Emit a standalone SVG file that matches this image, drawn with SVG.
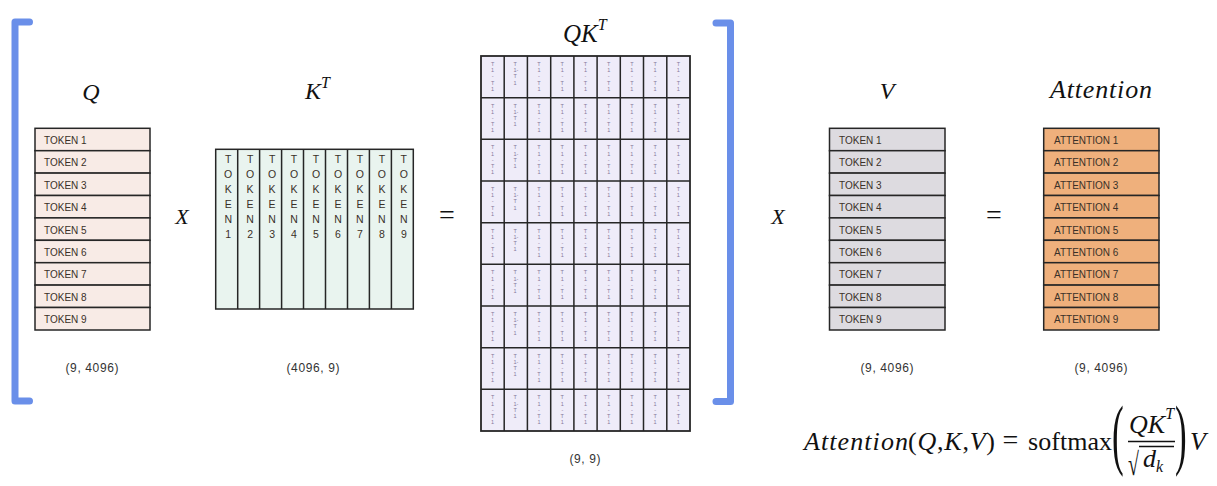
<svg xmlns="http://www.w3.org/2000/svg" width="1217" height="486" viewBox="0 0 1217 486">
<style>
.tok{font-family:"Liberation Sans",Lato,sans-serif;font-size:10px;fill:#3a3028}
.vt{font-family:"Liberation Sans",Lato,sans-serif;font-size:10.5px;fill:#3a3028;text-anchor:middle}
.math{font-family:"Liberation Serif",serif;font-style:italic;fill:#111}
.up{font-family:"Liberation Serif",serif;font-style:normal;fill:#111}
.dim{font-family:"Liberation Sans",Lato,sans-serif;font-size:12px;fill:#333;text-anchor:middle}
.cell{font-family:"Liberation Sans",sans-serif;font-size:5.5px;fill:#86789a;text-anchor:middle}
.cell2{font-family:"Liberation Sans",sans-serif;font-size:5.5px;fill:#86789a}
.ln{stroke:#262626;stroke-width:1.5;fill:none}
.q{fill:#f8ebe6;stroke:#262626;stroke-width:1.5}
.v{fill:#dddbe0;stroke:#262626;stroke-width:1.5}
.a{fill:#efb07c;stroke:#262626;stroke-width:1.5}
.brk{fill:none;stroke:#6a8fe9;stroke-width:7;stroke-linecap:round;stroke-linejoin:round}
</style>

<g id="bracket-left"><path class="brk" d="M29.5 22 H15 V401 H29.5"/></g>
<g id="bracket-right"><path class="brk" d="M716 23 H730.5 V401.5 H716"/></g>

<g id="node-q">
<text class="math" x="91" y="100" font-size="24" text-anchor="middle">Q</text>
<rect class="q" x="35" y="128.3" width="115" height="22.4"/>
<rect class="q" x="35" y="150.7" width="115" height="22.4"/>
<rect class="q" x="35" y="173.1" width="115" height="22.4"/>
<rect class="q" x="35" y="195.5" width="115" height="22.4"/>
<rect class="q" x="35" y="217.9" width="115" height="22.4"/>
<rect class="q" x="35" y="240.3" width="115" height="22.4"/>
<rect class="q" x="35" y="262.7" width="115" height="22.4"/>
<rect class="q" x="35" y="285.1" width="115" height="22.4"/>
<rect class="q" x="35" y="307.5" width="115" height="22.5"/>
<text class="tok" x="44" y="144">TOKEN 1</text>
<text class="tok" x="44" y="166.4">TOKEN 2</text>
<text class="tok" x="44" y="188.8">TOKEN 3</text>
<text class="tok" x="44" y="211.2">TOKEN 4</text>
<text class="tok" x="44" y="233.6">TOKEN 5</text>
<text class="tok" x="44" y="256">TOKEN 6</text>
<text class="tok" x="44" y="278.4">TOKEN 7</text>
<text class="tok" x="44" y="300.8">TOKEN 8</text>
<text class="tok" x="44" y="323.2">TOKEN 9</text>
<text class="dim" x="92" y="372" textLength="53" lengthAdjust="spacing">(9, 4096)</text>
</g>

<g id="node-kt">
<text class="math" x="305" y="98.5" font-size="24">K<tspan font-size="16" dy="-11">T</tspan></text>
<rect x="215.7" y="149.3" width="197.6" height="159.7" fill="#e9f4ef" stroke="#262626" stroke-width="1.5"/>
<path class="ln" d="M237.7 149.3V309M259.6 149.3V309M281.6 149.3V309M303.5 149.3V309M325.5 149.3V309M347.5 149.3V309M369.4 149.3V309M391.4 149.3V309"/>
<text class="vt" x="228.2" y="163">T<tspan x="228.2" dy="15">O</tspan><tspan x="228.2" dy="15">K</tspan><tspan x="228.2" dy="15">E</tspan><tspan x="228.2" dy="15">N</tspan><tspan x="228.2" dy="15">1</tspan></text>
<text class="vt" x="250.1" y="163">T<tspan x="250.1" dy="15">O</tspan><tspan x="250.1" dy="15">K</tspan><tspan x="250.1" dy="15">E</tspan><tspan x="250.1" dy="15">N</tspan><tspan x="250.1" dy="15">2</tspan></text>
<text class="vt" x="272.1" y="163">T<tspan x="272.1" dy="15">O</tspan><tspan x="272.1" dy="15">K</tspan><tspan x="272.1" dy="15">E</tspan><tspan x="272.1" dy="15">N</tspan><tspan x="272.1" dy="15">3</tspan></text>
<text class="vt" x="294" y="163">T<tspan x="294" dy="15">O</tspan><tspan x="294" dy="15">K</tspan><tspan x="294" dy="15">E</tspan><tspan x="294" dy="15">N</tspan><tspan x="294" dy="15">4</tspan></text>
<text class="vt" x="316" y="163">T<tspan x="316" dy="15">O</tspan><tspan x="316" dy="15">K</tspan><tspan x="316" dy="15">E</tspan><tspan x="316" dy="15">N</tspan><tspan x="316" dy="15">5</tspan></text>
<text class="vt" x="338" y="163">T<tspan x="338" dy="15">O</tspan><tspan x="338" dy="15">K</tspan><tspan x="338" dy="15">E</tspan><tspan x="338" dy="15">N</tspan><tspan x="338" dy="15">6</tspan></text>
<text class="vt" x="359.9" y="163">T<tspan x="359.9" dy="15">O</tspan><tspan x="359.9" dy="15">K</tspan><tspan x="359.9" dy="15">E</tspan><tspan x="359.9" dy="15">N</tspan><tspan x="359.9" dy="15">7</tspan></text>
<text class="vt" x="381.9" y="163">T<tspan x="381.9" dy="15">O</tspan><tspan x="381.9" dy="15">K</tspan><tspan x="381.9" dy="15">E</tspan><tspan x="381.9" dy="15">N</tspan><tspan x="381.9" dy="15">8</tspan></text>
<text class="vt" x="403.8" y="163">T<tspan x="403.8" dy="15">O</tspan><tspan x="403.8" dy="15">K</tspan><tspan x="403.8" dy="15">E</tspan><tspan x="403.8" dy="15">N</tspan><tspan x="403.8" dy="15">9</tspan></text>
<text class="dim" x="313" y="372" textLength="53" lengthAdjust="spacing">(4096, 9)</text>
</g>

<g id="node-qkt">
<text class="math" x="563" y="41.5" font-size="25">QK<tspan font-size="16" dy="-12">T</tspan></text>
<rect x="481" y="56" width="209" height="375" fill="#efecf9" stroke="#262626" stroke-width="1.8"/>
<path class="ln" stroke-width="1.8" d="M504.2 56V431M527.4 56V431M550.7 56V431M573.9 56V431M597.1 56V431M620.3 56V431M643.5 56V431M666.8 56V431M481 97.7H690M481 139.3H690M481 181H690M481 222.7H690M481 264.3H690M481 306H690M481 347.7H690M481 389.3H690"/>
<g transform="translate(0,56)">
<text class="cell" x="492.6" y="10">T<tspan x="492.6" dy="6.2">1</tspan><tspan x="492.6" dy="6.2">-</tspan><tspan x="492.6" dy="6.2">T</tspan><tspan x="492.6" dy="6.2">1</tspan></text>
<text class="cell2" x="513.5" y="10">T<tspan x="513.5" dy="6.2">1-</tspan><tspan x="513.5" dy="6.2">T</tspan><tspan x="513.5" dy="6.2">1</tspan></text>
<text class="cell" x="539" y="10">T<tspan x="539" dy="6.2">1</tspan><tspan x="539" dy="6.2">-</tspan><tspan x="539" dy="6.2">T</tspan><tspan x="539" dy="6.2">1</tspan></text>
<text class="cell" x="562.3" y="10">T<tspan x="562.3" dy="6.2">1</tspan><tspan x="562.3" dy="6.2">-</tspan><tspan x="562.3" dy="6.2">T</tspan><tspan x="562.3" dy="6.2">1</tspan></text>
<text class="cell" x="585.5" y="10">T<tspan x="585.5" dy="6.2">1</tspan><tspan x="585.5" dy="6.2">-</tspan><tspan x="585.5" dy="6.2">T</tspan><tspan x="585.5" dy="6.2">1</tspan></text>
<text class="cell" x="608.7" y="10">T<tspan x="608.7" dy="6.2">1</tspan><tspan x="608.7" dy="6.2">-</tspan><tspan x="608.7" dy="6.2">T</tspan><tspan x="608.7" dy="6.2">1</tspan></text>
<text class="cell" x="631.9" y="10">T<tspan x="631.9" dy="6.2">1</tspan><tspan x="631.9" dy="6.2">-</tspan><tspan x="631.9" dy="6.2">T</tspan><tspan x="631.9" dy="6.2">1</tspan></text>
<text class="cell" x="655.1" y="10">T<tspan x="655.1" dy="6.2">1</tspan><tspan x="655.1" dy="6.2">-</tspan><tspan x="655.1" dy="6.2">T</tspan><tspan x="655.1" dy="6.2">1</tspan></text>
<text class="cell" x="678.4" y="10">T<tspan x="678.4" dy="6.2">1</tspan><tspan x="678.4" dy="6.2">-</tspan><tspan x="678.4" dy="6.2">T</tspan><tspan x="678.4" dy="6.2">1</tspan></text>
</g>
<g transform="translate(0,97.67)">
<text class="cell" x="492.6" y="10">T<tspan x="492.6" dy="6.2">1</tspan><tspan x="492.6" dy="6.2">-</tspan><tspan x="492.6" dy="6.2">T</tspan><tspan x="492.6" dy="6.2">1</tspan></text>
<text class="cell2" x="513.5" y="10">T<tspan x="513.5" dy="6.2">1-</tspan><tspan x="513.5" dy="6.2">T</tspan><tspan x="513.5" dy="6.2">1</tspan></text>
<text class="cell" x="539" y="10">T<tspan x="539" dy="6.2">1</tspan><tspan x="539" dy="6.2">-</tspan><tspan x="539" dy="6.2">T</tspan><tspan x="539" dy="6.2">1</tspan></text>
<text class="cell" x="562.3" y="10">T<tspan x="562.3" dy="6.2">1</tspan><tspan x="562.3" dy="6.2">-</tspan><tspan x="562.3" dy="6.2">T</tspan><tspan x="562.3" dy="6.2">1</tspan></text>
<text class="cell" x="585.5" y="10">T<tspan x="585.5" dy="6.2">1</tspan><tspan x="585.5" dy="6.2">-</tspan><tspan x="585.5" dy="6.2">T</tspan><tspan x="585.5" dy="6.2">1</tspan></text>
<text class="cell" x="608.7" y="10">T<tspan x="608.7" dy="6.2">1</tspan><tspan x="608.7" dy="6.2">-</tspan><tspan x="608.7" dy="6.2">T</tspan><tspan x="608.7" dy="6.2">1</tspan></text>
<text class="cell" x="631.9" y="10">T<tspan x="631.9" dy="6.2">1</tspan><tspan x="631.9" dy="6.2">-</tspan><tspan x="631.9" dy="6.2">T</tspan><tspan x="631.9" dy="6.2">1</tspan></text>
<text class="cell" x="655.1" y="10">T<tspan x="655.1" dy="6.2">1</tspan><tspan x="655.1" dy="6.2">-</tspan><tspan x="655.1" dy="6.2">T</tspan><tspan x="655.1" dy="6.2">1</tspan></text>
<text class="cell" x="678.4" y="10">T<tspan x="678.4" dy="6.2">1</tspan><tspan x="678.4" dy="6.2">-</tspan><tspan x="678.4" dy="6.2">T</tspan><tspan x="678.4" dy="6.2">1</tspan></text>
</g>
<g transform="translate(0,139.33)">
<text class="cell" x="492.6" y="10">T<tspan x="492.6" dy="6.2">1</tspan><tspan x="492.6" dy="6.2">-</tspan><tspan x="492.6" dy="6.2">T</tspan><tspan x="492.6" dy="6.2">1</tspan></text>
<text class="cell2" x="513.5" y="10">T<tspan x="513.5" dy="6.2">1-</tspan><tspan x="513.5" dy="6.2">T</tspan><tspan x="513.5" dy="6.2">1</tspan></text>
<text class="cell" x="539" y="10">T<tspan x="539" dy="6.2">1</tspan><tspan x="539" dy="6.2">-</tspan><tspan x="539" dy="6.2">T</tspan><tspan x="539" dy="6.2">1</tspan></text>
<text class="cell" x="562.3" y="10">T<tspan x="562.3" dy="6.2">1</tspan><tspan x="562.3" dy="6.2">-</tspan><tspan x="562.3" dy="6.2">T</tspan><tspan x="562.3" dy="6.2">1</tspan></text>
<text class="cell" x="585.5" y="10">T<tspan x="585.5" dy="6.2">1</tspan><tspan x="585.5" dy="6.2">-</tspan><tspan x="585.5" dy="6.2">T</tspan><tspan x="585.5" dy="6.2">1</tspan></text>
<text class="cell" x="608.7" y="10">T<tspan x="608.7" dy="6.2">1</tspan><tspan x="608.7" dy="6.2">-</tspan><tspan x="608.7" dy="6.2">T</tspan><tspan x="608.7" dy="6.2">1</tspan></text>
<text class="cell" x="631.9" y="10">T<tspan x="631.9" dy="6.2">1</tspan><tspan x="631.9" dy="6.2">-</tspan><tspan x="631.9" dy="6.2">T</tspan><tspan x="631.9" dy="6.2">1</tspan></text>
<text class="cell" x="655.1" y="10">T<tspan x="655.1" dy="6.2">1</tspan><tspan x="655.1" dy="6.2">-</tspan><tspan x="655.1" dy="6.2">T</tspan><tspan x="655.1" dy="6.2">1</tspan></text>
<text class="cell" x="678.4" y="10">T<tspan x="678.4" dy="6.2">1</tspan><tspan x="678.4" dy="6.2">-</tspan><tspan x="678.4" dy="6.2">T</tspan><tspan x="678.4" dy="6.2">1</tspan></text>
</g>
<g transform="translate(0,181)">
<text class="cell" x="492.6" y="10">T<tspan x="492.6" dy="6.2">1</tspan><tspan x="492.6" dy="6.2">-</tspan><tspan x="492.6" dy="6.2">T</tspan><tspan x="492.6" dy="6.2">1</tspan></text>
<text class="cell2" x="513.5" y="10">T<tspan x="513.5" dy="6.2">1-</tspan><tspan x="513.5" dy="6.2">T</tspan><tspan x="513.5" dy="6.2">1</tspan></text>
<text class="cell" x="539" y="10">T<tspan x="539" dy="6.2">1</tspan><tspan x="539" dy="6.2">-</tspan><tspan x="539" dy="6.2">T</tspan><tspan x="539" dy="6.2">1</tspan></text>
<text class="cell" x="562.3" y="10">T<tspan x="562.3" dy="6.2">1</tspan><tspan x="562.3" dy="6.2">-</tspan><tspan x="562.3" dy="6.2">T</tspan><tspan x="562.3" dy="6.2">1</tspan></text>
<text class="cell" x="585.5" y="10">T<tspan x="585.5" dy="6.2">1</tspan><tspan x="585.5" dy="6.2">-</tspan><tspan x="585.5" dy="6.2">T</tspan><tspan x="585.5" dy="6.2">1</tspan></text>
<text class="cell" x="608.7" y="10">T<tspan x="608.7" dy="6.2">1</tspan><tspan x="608.7" dy="6.2">-</tspan><tspan x="608.7" dy="6.2">T</tspan><tspan x="608.7" dy="6.2">1</tspan></text>
<text class="cell" x="631.9" y="10">T<tspan x="631.9" dy="6.2">1</tspan><tspan x="631.9" dy="6.2">-</tspan><tspan x="631.9" dy="6.2">T</tspan><tspan x="631.9" dy="6.2">1</tspan></text>
<text class="cell" x="655.1" y="10">T<tspan x="655.1" dy="6.2">1</tspan><tspan x="655.1" dy="6.2">-</tspan><tspan x="655.1" dy="6.2">T</tspan><tspan x="655.1" dy="6.2">1</tspan></text>
<text class="cell" x="678.4" y="10">T<tspan x="678.4" dy="6.2">1</tspan><tspan x="678.4" dy="6.2">-</tspan><tspan x="678.4" dy="6.2">T</tspan><tspan x="678.4" dy="6.2">1</tspan></text>
</g>
<g transform="translate(0,222.67)">
<text class="cell" x="492.6" y="10">T<tspan x="492.6" dy="6.2">1</tspan><tspan x="492.6" dy="6.2">-</tspan><tspan x="492.6" dy="6.2">T</tspan><tspan x="492.6" dy="6.2">1</tspan></text>
<text class="cell2" x="513.5" y="10">T<tspan x="513.5" dy="6.2">1-</tspan><tspan x="513.5" dy="6.2">T</tspan><tspan x="513.5" dy="6.2">1</tspan></text>
<text class="cell" x="539" y="10">T<tspan x="539" dy="6.2">1</tspan><tspan x="539" dy="6.2">-</tspan><tspan x="539" dy="6.2">T</tspan><tspan x="539" dy="6.2">1</tspan></text>
<text class="cell" x="562.3" y="10">T<tspan x="562.3" dy="6.2">1</tspan><tspan x="562.3" dy="6.2">-</tspan><tspan x="562.3" dy="6.2">T</tspan><tspan x="562.3" dy="6.2">1</tspan></text>
<text class="cell" x="585.5" y="10">T<tspan x="585.5" dy="6.2">1</tspan><tspan x="585.5" dy="6.2">-</tspan><tspan x="585.5" dy="6.2">T</tspan><tspan x="585.5" dy="6.2">1</tspan></text>
<text class="cell" x="608.7" y="10">T<tspan x="608.7" dy="6.2">1</tspan><tspan x="608.7" dy="6.2">-</tspan><tspan x="608.7" dy="6.2">T</tspan><tspan x="608.7" dy="6.2">1</tspan></text>
<text class="cell" x="631.9" y="10">T<tspan x="631.9" dy="6.2">1</tspan><tspan x="631.9" dy="6.2">-</tspan><tspan x="631.9" dy="6.2">T</tspan><tspan x="631.9" dy="6.2">1</tspan></text>
<text class="cell" x="655.1" y="10">T<tspan x="655.1" dy="6.2">1</tspan><tspan x="655.1" dy="6.2">-</tspan><tspan x="655.1" dy="6.2">T</tspan><tspan x="655.1" dy="6.2">1</tspan></text>
<text class="cell" x="678.4" y="10">T<tspan x="678.4" dy="6.2">1</tspan><tspan x="678.4" dy="6.2">-</tspan><tspan x="678.4" dy="6.2">T</tspan><tspan x="678.4" dy="6.2">1</tspan></text>
</g>
<g transform="translate(0,264.33)">
<text class="cell" x="492.6" y="10">T<tspan x="492.6" dy="6.2">1</tspan><tspan x="492.6" dy="6.2">-</tspan><tspan x="492.6" dy="6.2">T</tspan><tspan x="492.6" dy="6.2">1</tspan></text>
<text class="cell2" x="513.5" y="10">T<tspan x="513.5" dy="6.2">1-</tspan><tspan x="513.5" dy="6.2">T</tspan><tspan x="513.5" dy="6.2">1</tspan></text>
<text class="cell" x="539" y="10">T<tspan x="539" dy="6.2">1</tspan><tspan x="539" dy="6.2">-</tspan><tspan x="539" dy="6.2">T</tspan><tspan x="539" dy="6.2">1</tspan></text>
<text class="cell" x="562.3" y="10">T<tspan x="562.3" dy="6.2">1</tspan><tspan x="562.3" dy="6.2">-</tspan><tspan x="562.3" dy="6.2">T</tspan><tspan x="562.3" dy="6.2">1</tspan></text>
<text class="cell" x="585.5" y="10">T<tspan x="585.5" dy="6.2">1</tspan><tspan x="585.5" dy="6.2">-</tspan><tspan x="585.5" dy="6.2">T</tspan><tspan x="585.5" dy="6.2">1</tspan></text>
<text class="cell" x="608.7" y="10">T<tspan x="608.7" dy="6.2">1</tspan><tspan x="608.7" dy="6.2">-</tspan><tspan x="608.7" dy="6.2">T</tspan><tspan x="608.7" dy="6.2">1</tspan></text>
<text class="cell" x="631.9" y="10">T<tspan x="631.9" dy="6.2">1</tspan><tspan x="631.9" dy="6.2">-</tspan><tspan x="631.9" dy="6.2">T</tspan><tspan x="631.9" dy="6.2">1</tspan></text>
<text class="cell" x="655.1" y="10">T<tspan x="655.1" dy="6.2">1</tspan><tspan x="655.1" dy="6.2">-</tspan><tspan x="655.1" dy="6.2">T</tspan><tspan x="655.1" dy="6.2">1</tspan></text>
<text class="cell" x="678.4" y="10">T<tspan x="678.4" dy="6.2">1</tspan><tspan x="678.4" dy="6.2">-</tspan><tspan x="678.4" dy="6.2">T</tspan><tspan x="678.4" dy="6.2">1</tspan></text>
</g>
<g transform="translate(0,306)">
<text class="cell" x="492.6" y="10">T<tspan x="492.6" dy="6.2">1</tspan><tspan x="492.6" dy="6.2">-</tspan><tspan x="492.6" dy="6.2">T</tspan><tspan x="492.6" dy="6.2">1</tspan></text>
<text class="cell2" x="513.5" y="10">T<tspan x="513.5" dy="6.2">1-</tspan><tspan x="513.5" dy="6.2">T</tspan><tspan x="513.5" dy="6.2">1</tspan></text>
<text class="cell" x="539" y="10">T<tspan x="539" dy="6.2">1</tspan><tspan x="539" dy="6.2">-</tspan><tspan x="539" dy="6.2">T</tspan><tspan x="539" dy="6.2">1</tspan></text>
<text class="cell" x="562.3" y="10">T<tspan x="562.3" dy="6.2">1</tspan><tspan x="562.3" dy="6.2">-</tspan><tspan x="562.3" dy="6.2">T</tspan><tspan x="562.3" dy="6.2">1</tspan></text>
<text class="cell" x="585.5" y="10">T<tspan x="585.5" dy="6.2">1</tspan><tspan x="585.5" dy="6.2">-</tspan><tspan x="585.5" dy="6.2">T</tspan><tspan x="585.5" dy="6.2">1</tspan></text>
<text class="cell" x="608.7" y="10">T<tspan x="608.7" dy="6.2">1</tspan><tspan x="608.7" dy="6.2">-</tspan><tspan x="608.7" dy="6.2">T</tspan><tspan x="608.7" dy="6.2">1</tspan></text>
<text class="cell" x="631.9" y="10">T<tspan x="631.9" dy="6.2">1</tspan><tspan x="631.9" dy="6.2">-</tspan><tspan x="631.9" dy="6.2">T</tspan><tspan x="631.9" dy="6.2">1</tspan></text>
<text class="cell" x="655.1" y="10">T<tspan x="655.1" dy="6.2">1</tspan><tspan x="655.1" dy="6.2">-</tspan><tspan x="655.1" dy="6.2">T</tspan><tspan x="655.1" dy="6.2">1</tspan></text>
<text class="cell" x="678.4" y="10">T<tspan x="678.4" dy="6.2">1</tspan><tspan x="678.4" dy="6.2">-</tspan><tspan x="678.4" dy="6.2">T</tspan><tspan x="678.4" dy="6.2">1</tspan></text>
</g>
<g transform="translate(0,347.67)">
<text class="cell" x="492.6" y="10">T<tspan x="492.6" dy="6.2">1</tspan><tspan x="492.6" dy="6.2">-</tspan><tspan x="492.6" dy="6.2">T</tspan><tspan x="492.6" dy="6.2">1</tspan></text>
<text class="cell2" x="513.5" y="10">T<tspan x="513.5" dy="6.2">1-</tspan><tspan x="513.5" dy="6.2">T</tspan><tspan x="513.5" dy="6.2">1</tspan></text>
<text class="cell" x="539" y="10">T<tspan x="539" dy="6.2">1</tspan><tspan x="539" dy="6.2">-</tspan><tspan x="539" dy="6.2">T</tspan><tspan x="539" dy="6.2">1</tspan></text>
<text class="cell" x="562.3" y="10">T<tspan x="562.3" dy="6.2">1</tspan><tspan x="562.3" dy="6.2">-</tspan><tspan x="562.3" dy="6.2">T</tspan><tspan x="562.3" dy="6.2">1</tspan></text>
<text class="cell" x="585.5" y="10">T<tspan x="585.5" dy="6.2">1</tspan><tspan x="585.5" dy="6.2">-</tspan><tspan x="585.5" dy="6.2">T</tspan><tspan x="585.5" dy="6.2">1</tspan></text>
<text class="cell" x="608.7" y="10">T<tspan x="608.7" dy="6.2">1</tspan><tspan x="608.7" dy="6.2">-</tspan><tspan x="608.7" dy="6.2">T</tspan><tspan x="608.7" dy="6.2">1</tspan></text>
<text class="cell" x="631.9" y="10">T<tspan x="631.9" dy="6.2">1</tspan><tspan x="631.9" dy="6.2">-</tspan><tspan x="631.9" dy="6.2">T</tspan><tspan x="631.9" dy="6.2">1</tspan></text>
<text class="cell" x="655.1" y="10">T<tspan x="655.1" dy="6.2">1</tspan><tspan x="655.1" dy="6.2">-</tspan><tspan x="655.1" dy="6.2">T</tspan><tspan x="655.1" dy="6.2">1</tspan></text>
<text class="cell" x="678.4" y="10">T<tspan x="678.4" dy="6.2">1</tspan><tspan x="678.4" dy="6.2">-</tspan><tspan x="678.4" dy="6.2">T</tspan><tspan x="678.4" dy="6.2">1</tspan></text>
</g>
<g transform="translate(0,389.33)">
<text class="cell" x="492.6" y="10">T<tspan x="492.6" dy="6.2">1</tspan><tspan x="492.6" dy="6.2">-</tspan><tspan x="492.6" dy="6.2">T</tspan><tspan x="492.6" dy="6.2">1</tspan></text>
<text class="cell2" x="513.5" y="10">T<tspan x="513.5" dy="6.2">1-</tspan><tspan x="513.5" dy="6.2">T</tspan><tspan x="513.5" dy="6.2">1</tspan></text>
<text class="cell" x="539" y="10">T<tspan x="539" dy="6.2">1</tspan><tspan x="539" dy="6.2">-</tspan><tspan x="539" dy="6.2">T</tspan><tspan x="539" dy="6.2">1</tspan></text>
<text class="cell" x="562.3" y="10">T<tspan x="562.3" dy="6.2">1</tspan><tspan x="562.3" dy="6.2">-</tspan><tspan x="562.3" dy="6.2">T</tspan><tspan x="562.3" dy="6.2">1</tspan></text>
<text class="cell" x="585.5" y="10">T<tspan x="585.5" dy="6.2">1</tspan><tspan x="585.5" dy="6.2">-</tspan><tspan x="585.5" dy="6.2">T</tspan><tspan x="585.5" dy="6.2">1</tspan></text>
<text class="cell" x="608.7" y="10">T<tspan x="608.7" dy="6.2">1</tspan><tspan x="608.7" dy="6.2">-</tspan><tspan x="608.7" dy="6.2">T</tspan><tspan x="608.7" dy="6.2">1</tspan></text>
<text class="cell" x="631.9" y="10">T<tspan x="631.9" dy="6.2">1</tspan><tspan x="631.9" dy="6.2">-</tspan><tspan x="631.9" dy="6.2">T</tspan><tspan x="631.9" dy="6.2">1</tspan></text>
<text class="cell" x="655.1" y="10">T<tspan x="655.1" dy="6.2">1</tspan><tspan x="655.1" dy="6.2">-</tspan><tspan x="655.1" dy="6.2">T</tspan><tspan x="655.1" dy="6.2">1</tspan></text>
<text class="cell" x="678.4" y="10">T<tspan x="678.4" dy="6.2">1</tspan><tspan x="678.4" dy="6.2">-</tspan><tspan x="678.4" dy="6.2">T</tspan><tspan x="678.4" dy="6.2">1</tspan></text>
</g>
<text class="dim" x="585" y="463" textLength="31" lengthAdjust="spacing">(9, 9)</text>
</g>

<g id="node-v">
<text class="math" x="887" y="99" font-size="24" text-anchor="middle">V</text>
<rect class="v" x="829.5" y="128.3" width="115.5" height="22.4"/>
<rect class="v" x="829.5" y="150.7" width="115.5" height="22.4"/>
<rect class="v" x="829.5" y="173.1" width="115.5" height="22.4"/>
<rect class="v" x="829.5" y="195.5" width="115.5" height="22.4"/>
<rect class="v" x="829.5" y="217.9" width="115.5" height="22.4"/>
<rect class="v" x="829.5" y="240.3" width="115.5" height="22.4"/>
<rect class="v" x="829.5" y="262.7" width="115.5" height="22.4"/>
<rect class="v" x="829.5" y="285.1" width="115.5" height="22.4"/>
<rect class="v" x="829.5" y="307.5" width="115.5" height="22.5"/>
<text class="tok" x="839" y="144">TOKEN 1</text>
<text class="tok" x="839" y="166.4">TOKEN 2</text>
<text class="tok" x="839" y="188.8">TOKEN 3</text>
<text class="tok" x="839" y="211.2">TOKEN 4</text>
<text class="tok" x="839" y="233.6">TOKEN 5</text>
<text class="tok" x="839" y="256">TOKEN 6</text>
<text class="tok" x="839" y="278.4">TOKEN 7</text>
<text class="tok" x="839" y="300.8">TOKEN 8</text>
<text class="tok" x="839" y="323.2">TOKEN 9</text>
<text class="dim" x="887" y="372" textLength="53" lengthAdjust="spacing">(9, 4096)</text>
</g>

<g id="node-attention">
<text class="math" x="1050" y="98" font-size="26" textLength="102" lengthAdjust="spacing">Attention</text>
<rect class="a" x="1043.7" y="128.3" width="115.3" height="22.4"/>
<rect class="a" x="1043.7" y="150.7" width="115.3" height="22.4"/>
<rect class="a" x="1043.7" y="173.1" width="115.3" height="22.4"/>
<rect class="a" x="1043.7" y="195.5" width="115.3" height="22.4"/>
<rect class="a" x="1043.7" y="217.9" width="115.3" height="22.4"/>
<rect class="a" x="1043.7" y="240.3" width="115.3" height="22.4"/>
<rect class="a" x="1043.7" y="262.7" width="115.3" height="22.4"/>
<rect class="a" x="1043.7" y="285.1" width="115.3" height="22.4"/>
<rect class="a" x="1043.7" y="307.5" width="115.3" height="22.5"/>
<text class="tok" x="1054" y="144">ATTENTION 1</text>
<text class="tok" x="1054" y="166.4">ATTENTION 2</text>
<text class="tok" x="1054" y="188.8">ATTENTION 3</text>
<text class="tok" x="1054" y="211.2">ATTENTION 4</text>
<text class="tok" x="1054" y="233.6">ATTENTION 5</text>
<text class="tok" x="1054" y="256">ATTENTION 6</text>
<text class="tok" x="1054" y="278.4">ATTENTION 7</text>
<text class="tok" x="1054" y="300.8">ATTENTION 8</text>
<text class="tok" x="1054" y="323.2">ATTENTION 9</text>
<text class="dim" x="1101" y="372" textLength="53" lengthAdjust="spacing">(9, 4096)</text>
</g>

<g id="operators">
<text class="math" x="182" y="224" font-size="22" text-anchor="middle">X</text>
<text class="up" x="447" y="224" font-size="28" text-anchor="middle">=</text>
<text class="math" x="778" y="224" font-size="22" text-anchor="middle">X</text>
<text class="up" x="994" y="224" font-size="28" text-anchor="middle">=</text>
</g>

<g id="formula">
<text class="math" x="804" y="450" font-size="26" textLength="104" lengthAdjust="spacing">Attention</text>
<text class="math" x="908" y="450" font-size="26" textLength="87" lengthAdjust="spacing"><tspan class="up">(</tspan>Q<tspan class="up">,</tspan>K<tspan class="up">,</tspan>V<tspan class="up">)</tspan></text>
<text class="up" x="1010.5" y="449" font-size="28" text-anchor="middle">=</text>
<text class="up" x="1028" y="450" font-size="26" textLength="84" lengthAdjust="spacing">softmax</text>
<text class="up" font-size="78" transform="translate(1112,460) scale(0.45,1)">(</text>
<text class="math" x="1129" y="433" font-size="26">QK<tspan font-size="16" dy="-14">T</tspan></text>
<line x1="1128" y1="441.5" x2="1175" y2="441.5" stroke="#111" stroke-width="1.6"/>
<text class="up" font-size="32" transform="translate(1128,475) scale(0.62,1)">√</text>
<line x1="1139" y1="446.5" x2="1174" y2="446.5" stroke="#111" stroke-width="1.4"/>
<text class="math" x="1143" y="467" font-size="26">d<tspan font-size="16" dy="5">k</tspan></text>
<text class="up" font-size="78" transform="translate(1175,460) scale(0.45,1)">)</text>
<text class="math" x="1190" y="450" font-size="26">V</text>
</g>
</svg>
